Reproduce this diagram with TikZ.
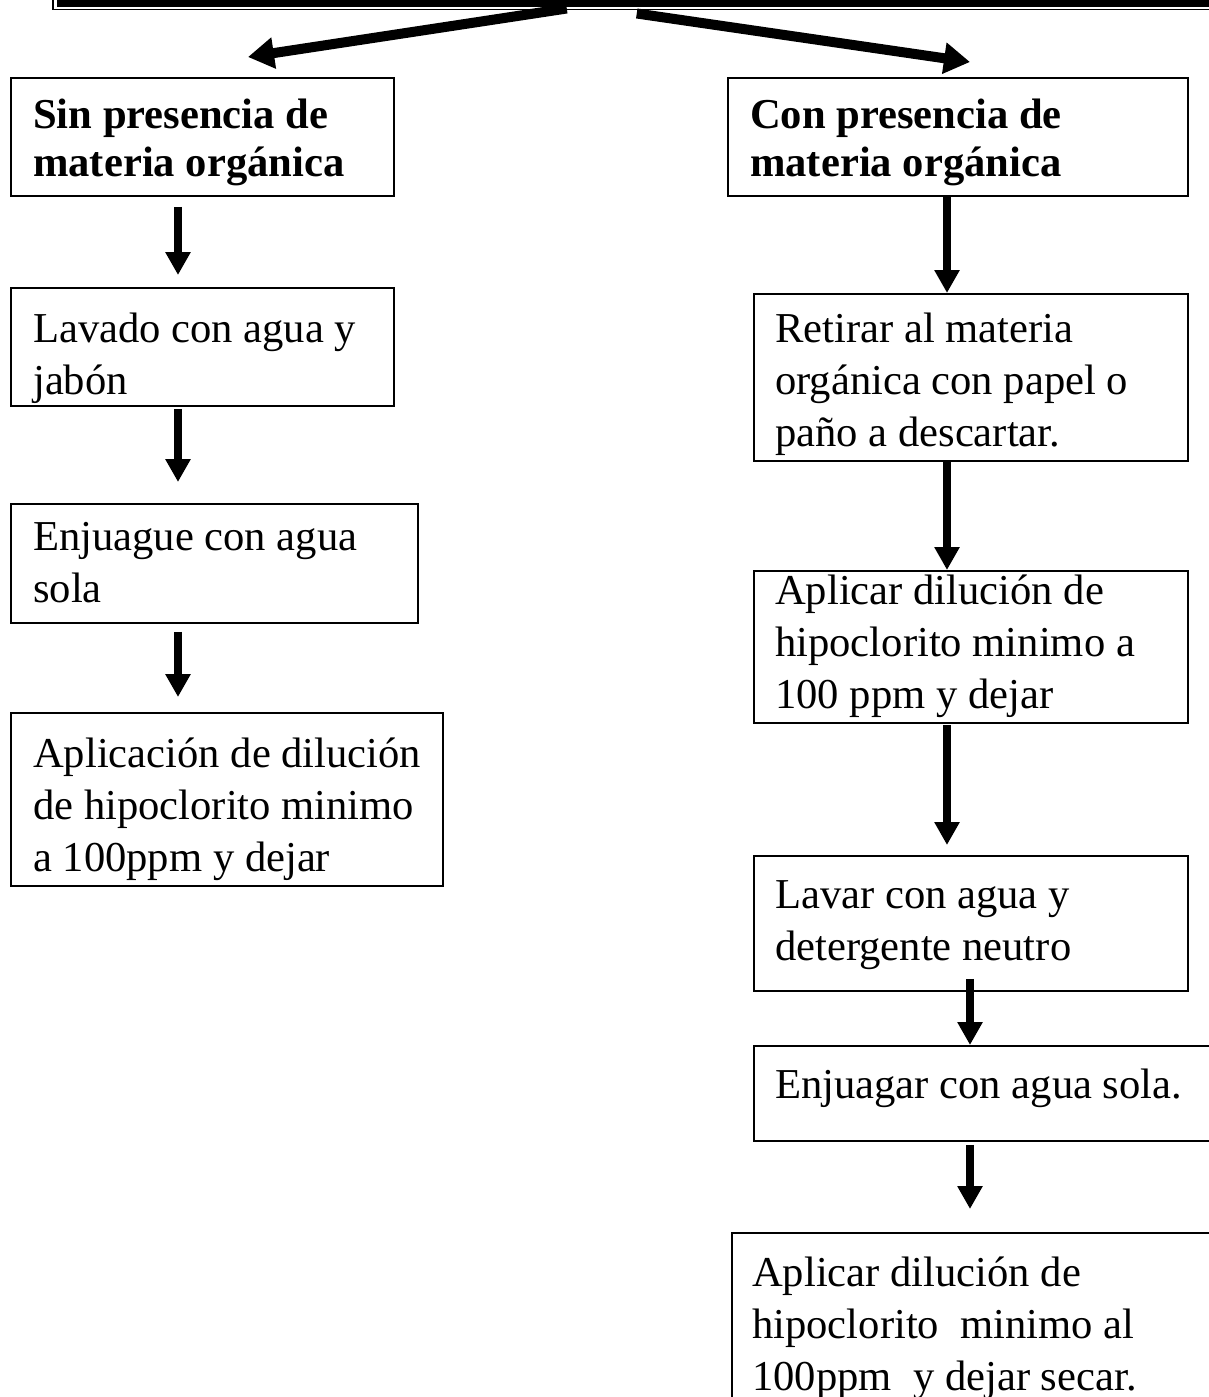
\documentclass[tikz,border=0pt]{standalone}
\usepackage{fontspec}
\setmainfont{Liberation Serif}
\usetikzlibrary{arrows.meta,calc}
\newcommand\tstrut{\rule{0pt}{32pt}}
\begin{document}
\begin{tikzpicture}[x=1pt,y=-1pt,
  box/.style={draw=black,line width=1.8pt,rectangle,inner sep=0pt,anchor=north west},
  txt/.style={anchor=north west,inner sep=0pt,align=left,font=\fontsize{42.6}{52}\selectfont},
  btxt/.style={anchor=north west,inner sep=0pt,align=left,font=\fontsize{42.6}{48}\selectfont\bfseries},
  varr/.style={line width=8.5pt,-{Triangle[width=24pt,length=23pt]}},
  darr/.style={line width=10pt,-{Triangle[width=30pt,length=26pt]}}]
\useasboundingbox (0,0) rectangle (1208,1397);
\fill[white] (0,0) rectangle (1208,1397);

% top box (cut off)
\node[draw=black,line width=1.5pt,inner sep=0pt,anchor=south west,minimum width=1180pt,minimum height=50pt] (top) at (52,10.5) {};
\fill[black] (57,-45) rectangle (1240,7);

\coordinate (lx) at (178,0);
\coordinate (rx) at (947,0);
\coordinate (rx2) at (970,0);
\coordinate (ltip) at (248,57);
\coordinate (rtip) at (970,62);

% left column
\node[box,minimum width=383pt,minimum height=118pt] (l1) at (10,77) {};
\node[btxt] (l1t) at (33,96) {\tstrut Sin presencia de\\materia orgánica};
\node[box,minimum width=383pt,minimum height=118pt] (l2) at (10,287) {};
\node[txt] (l2t) at (33,310) {\tstrut Lavado con agua y\\jabón};
\node[box,minimum width=407pt,minimum height=119pt] (l3) at (10,503) {};
\node[txt] (l3t) at (33,518) {\tstrut Enjuague con agua\\sola};
\node[box,minimum width=432pt,minimum height=173pt] (l4) at (10,712) {};
\node[txt] (l4t) at (33,735) {\tstrut Aplicación de dilución\\de hipoclorito minimo\\a 100ppm y dejar};

% right column
\node[box,minimum width=460pt,minimum height=118pt] (r1) at (727,77) {};
\node[btxt] (r1t) at (750,96) {\tstrut Con presencia de\\materia orgánica};
\node[box,minimum width=434pt,minimum height=167pt] (r2) at (753,293) {};
\node[txt] (r2t) at (775,310) {\tstrut Retirar al materia\\orgánica con papel o\\paño a descartar.};
\node[box,minimum width=434pt,minimum height=152pt] (r3) at (753,570) {};
\node[txt] (r3t) at (775,572) {\tstrut Aplicar dilución de\\hipoclorito minimo a\\100 ppm y dejar};
\node[box,minimum width=434pt,minimum height=135pt] (r4) at (753,855) {};
\node[txt] (r4t) at (775,876) {\tstrut Lavar con agua y\\detergente neutro};
\node[box,minimum width=470pt,minimum height=95pt] (r5) at (753,1045) {};
\node[txt] (r5t) at (775,1066) {\tstrut Enjuagar con agua sola.};
\node[box,minimum width=490pt,minimum height=190pt] (r6) at (731,1232) {};
\node[txt] (r6t) at (752,1254) {\tstrut Aplicar dilución de\\hipoclorito\ \ minimo al\\100ppm\ \ y dejar secar.};

% diagonal arrows
\draw[darr] ($(top.south)+(-76,-2)$) -- (ltip);
\draw[darr] ($(top.south)+(-6,3)$) -- (rtip);

% vertical arrows
\draw[varr] ($(l1.south -| lx)+(0,10)$) -- ($(l2.north -| lx)+(0,-12)$);
\draw[varr] ($(l2.south -| lx)+(0,2)$) -- ($(l3.north -| lx)+(0,-21)$);
\draw[varr] ($(l3.south -| lx)+(0,8)$) -- ($(l4.north -| lx)+(0,-15)$);

\draw[varr] (r1.south -| rx) -- (r2.north -| rx);
\draw[varr] (r2.south -| rx) -- (r3.north -| rx);
\draw[varr] ($(r3.south -| rx)+(0,1)$) -- ($(r4.north -| rx)+(0,-10)$);
\draw[varr] ($(r4.south -| rx2)+(0,-13)$) -- (r5.north -| rx2);
\draw[varr] ($(r5.south -| rx2)+(0,3)$) -- ($(r6.north -| rx2)+(0,-23)$);
\end{tikzpicture}
\end{document}
